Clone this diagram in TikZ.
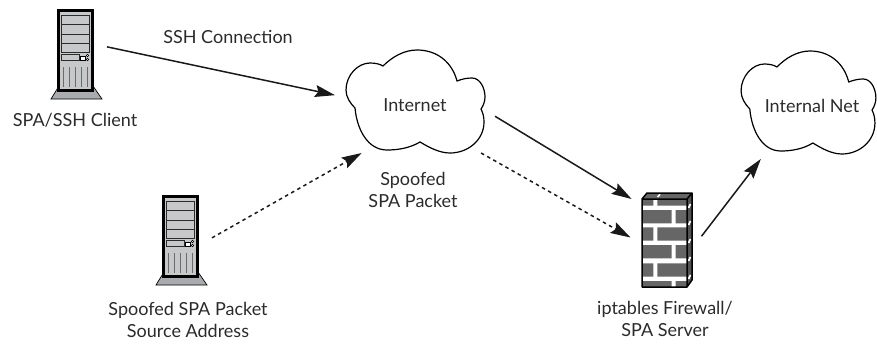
\documentclass[tikz,border=0pt]{standalone}
\usepackage{fontspec}
\setmainfont{Lato}
\usetikzlibrary{arrows.meta}

\definecolor{bayfill}{HTML}{C6C8CA}
\definecolor{basefill}{HTML}{A9ABAE}
\definecolor{brickfill}{HTML}{666666}
\definecolor{inkgray}{HTML}{2B2B2B}

\tikzset{
    servericon/.pic={
        \begin{scope}[shift={(-76,-54)}]
        \draw[fill=basefill, line width=0.7pt] (51,99) -- (59,86) -- (93,86) -- (102,99) -- cycle;
        \draw[fill=bayfill, line width=3.2pt] (58.5,10.5) rectangle (92.5,90.5);
        \foreach \bay in {15,24.5,34,43} {
            \draw[fill=bayfill, line width=1pt, draw=inkgray] (61.5,\bay) rectangle (89.5,\bay+9.5);
        }
        \draw[fill=bayfill, line width=0.8pt, draw=inkgray] (61.5,54.5) rectangle (79,60);
        \draw[fill=white, line width=0.7pt] (80.5,56) rectangle (85,60);
        \draw[fill=white, line width=0.6pt] (87.5,55.5) circle (1.3) (87.5,59.5) circle (1.3);
        \foreach \vent in {63.5,69.5,75.5,81.5,87.5} {
            \draw[line width=1pt, draw=inkgray!70] (\vent,67) -- (\vent,87);
        }
        \end{scope}
    },
    firewallicon/.pic={
        \begin{scope}[shift={(-666,-240)}]
        \fill[white] (642,199) rectangle (687,287);
        \fill[brickfill] (647,193) -- (692,193) -- (687,199) -- (642,199) -- cycle;
        \fill[brickfill!80!black] (687,199) -- (692,193) -- (692,280) -- (687,287) -- cycle;
        % bricks
        \foreach \top/\bot/\cut in {200/205.7/0,210/223.3/1,227.3/240.7/0,245/258.3/1,263.3/276.7/0,281/287/1} {
            \ifnum\cut=0
                \fill[brickfill] (643,\top) rectangle (653.3,\bot) (657.3,\top) rectangle (687,\bot);
            \else
                \fill[brickfill] (643,\top) rectangle (671.7,\bot) (675.7,\top) rectangle (687,\bot);
            \fi
        }
        \foreach \gap in {208,225,243,261,279} {
            \draw[white, line width=1.6pt] (688.5,\gap) -- (690.5,\gap-4);
        }
        \draw[white, line width=1.6pt] (657.5,197) -- (660,194.5);
        \draw[line width=1.5pt, line join=round] (642,199) rectangle (687,287)
            (642,199) -- (647,193) -- (692,193) -- (692,280) -- (687,287)
            (687,199) -- (692,193);
        \end{scope}
    },
    cloudicon/.pic={
        \draw[line width=1.2pt, line join=round] (-60,3) .. controls (-65,-2) and (-69,-8) .. (-69,-15)
            .. controls (-69,-30) and (-57,-42) .. (-45,-42)
            .. controls (-40,-42) and (-35,-41) .. (-32,-39)
            .. controls (-23,-48) and (-11,-55) .. (2,-55)
            .. controls (22,-55) and (37,-43) .. (42,-24)
            .. controls (47,-26) and (52,-27) .. (57,-27)
            .. controls (65,-27) and (70,-17) .. (70,-8)
            .. controls (70,-3) and (68,1) .. (66,4)
            .. controls (68,8) and (69,12) .. (69,17)
            .. controls (69,35) and (53,48) .. (35,48)
            .. controls (25,48) and (15,43) .. (5,37)
            .. controls (-5,43) and (-17,45) .. (-28,45)
            .. controls (-47,45) and (-58,25) .. (-60,3) -- cycle;
    }
}

\begin{document}
\begin{tikzpicture}[
    x=1pt, y=-1pt,
    font=\fontsize{18}{22.5}\selectfont,
    server/.style={minimum width=62pt, minimum height=90pt, inner sep=0pt, outer sep=0pt},
    firewall/.style={minimum width=71pt, minimum height=82pt, inner sep=0pt, outer sep=0pt},
    cloudnet/.style={minimum width=160pt, minimum height=96pt, inner sep=0pt, outer sep=0pt, text=inkgray},
    caption/.style={align=center, inner sep=0pt, text=inkgray},
    arrow/.style={-{Stealth[length=20pt, width=12pt, inset=3pt]}, line width=1.5pt, draw=black!90},
    spoofed/.style={arrow, dash pattern=on 3.5pt off 3.5pt}
]
\useasboundingbox (0,0) rectangle (877,343);

% Hosts
\node[server] (client) at (76,54) {};
\pic at (client.center) {servericon};
\node[server] (source) at (181,240) {};
\pic at (source.center) {servericon};
\node[firewall] (gateway) at (666,240) {};
\pic at (gateway.center) {firewallicon};

% Clouds
\node[cloudnet] (internet) at (415,105) {Internet};
\pic at (internet.center) {cloudicon};
\node[cloudnet, minimum height=106pt] (internal) at (812,106) {Internal Net};
\pic[xscale=0.97] at ([xshift=-4pt]internal.center) {cloudicon};

% Labels
\node[caption] (sshlabel) at (228,37) {SSH Connection};
\node[caption] (clientlabel) at (75,120) {SPA/SSH Client};
\node[caption] (sourcelabel) at (188,320) {Spoofed SPA Packet\\Source Address};
\node[caption] (packetlabel) at (413,190) {Spoofed\\SPA Packet};
\node[caption] (gatewaylabel) at (665,319) {iptables Firewall/\\SPA Server};

% Connections
\draw[arrow] (client.13) -- (internet.173);
\draw[spoofed] (source.4) -- (internet.222.7);
\draw[arrow] (internet.-8.6) -- (gateway.130.9);
\draw[spoofed] (internet.-36.3) -- (gateway.176.8);
\draw[arrow] (gateway.6.5) -- (internal.226.1);

\end{tikzpicture}
\end{document}
